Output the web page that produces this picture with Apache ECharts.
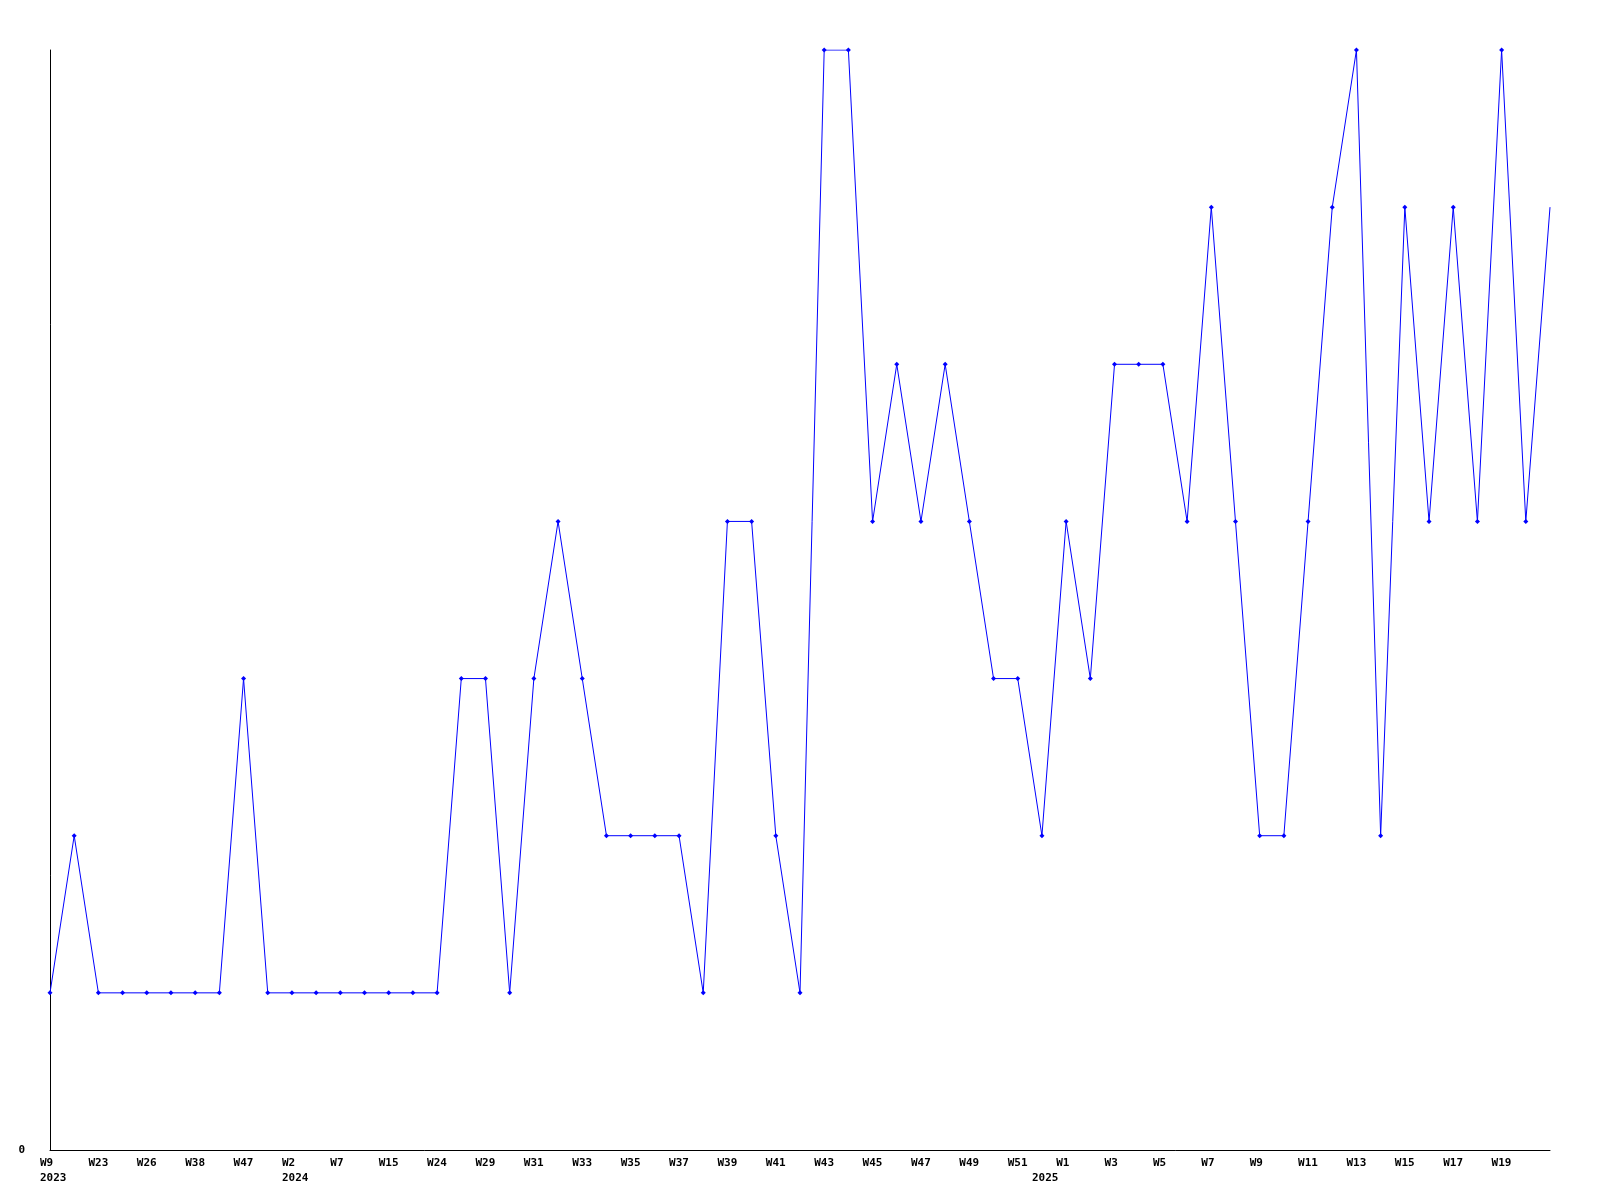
<!DOCTYPE html>
<html>
<head>
<meta charset="utf-8">
<script src="https://cdn.jsdelivr.net/npm/echarts@6/dist/echarts.min.js"></script>
<style>html,body{margin:0;padding:0;background:#fff}#c{width:1600px;height:1200px}</style>
</head>
<body>
<div id="c"></div>
<script>
const weeks = ['W9','W22','W23','W25','W26','W37','W38','W46','W47','W52',
  'W2','W6','W7','W14','W15','W23','W24','W28','W29','W30',
  'W31','W32','W33','W34','W35','W36','W37','W38','W39','W40',
  'W41','W42','W43','W44','W45','W46','W47','W48','W49','W50',
  'W51','W52','W1','W2','W3','W4','W5','W6','W7','W8',
  'W9','W10','W11','W12','W13','W14','W15','W16','W17','W18',
  'W19','W20','W21'];
const shownWeekLabels = ['W9','W23','W26','W38','W47','W2','W7','W15','W24','W29',
  'W31','W33','W35','W37','W39','W41','W43','W45','W47','W49',
  'W51','W1','W3','W5','W7','W9','W11','W13','W15','W17','W19'];
const yearLabels = {0:'2023', 10:'2024', 41:'2025'};
const values = [1,2,1,1,1,1,1,1,3,1,
  1,1,1,1,1,1,1,3,3,1,
  3,4,3,2,2,2,2,1,4,4,
  2,1,7,7,4,5,4,5,4,3,
  3,2,4,3,5,5,5,4,6,4,
  2,2,4,6,7,2,6,4,6,4,
  7,4,6];
const yTickLabels = ['0'];

const cats = weeks.map((w, i) => i + ':' + w);
const seriesData = values.map((v, i) => i === values.length - 1 ? {value: v, symbol: 'none'} : v);
const weekLabelAt = (i) => (i % 2 === 0 && i / 2 < shownWeekLabels.length) ? shownWeekLabels[i / 2] : '';

const chart = echarts.init(document.getElementById('c'), null, {renderer: 'canvas'});
chart.setOption({
  animation: false,
  backgroundColor: '#ffffff',
  grid: {left: 50, right: 50, top: 50, bottom: 50, containLabel: false},
  xAxis: {
    type: 'category',
    data: cats,
    boundaryGap: false,
    axisLine: {show: true, lineStyle: {color: '#000', width: 1}},
    axisTick: {show: false},
    splitLine: {show: false},
    axisLabel: {
      interval: (i) => weekLabelAt(i) !== '' || yearLabels[i] !== undefined,
      margin: 6,
      align: 'left',
      padding: [0, 0, 0, -10],
      color: '#000',
      fontFamily: 'DejaVu Sans Mono',
      fontWeight: 'bold',
      fontSize: 11,
      lineHeight: 15,
      formatter: (val, i) => {
        const w = weekLabelAt(i);
        return yearLabels[i] !== undefined ? w + '\n' + yearLabels[i] : w;
      }
    }
  },
  yAxis: {
    type: 'value',
    min: 0,
    max: 7,
    interval: 7,
    axisLine: {show: true, lineStyle: {color: '#000', width: 1}},
    axisTick: {show: false},
    splitLine: {show: false},
    axisLabel: {
      showMaxLabel: false,
      margin: 25,
      color: '#000',
      fontFamily: 'DejaVu Sans Mono',
      fontWeight: 'bold',
      fontSize: 11,
      formatter: (v) => v === 0 ? yTickLabels[0] : ''
    }
  },
  series: [{
    type: 'line',
    data: seriesData,
    symbol: 'diamond',
    symbolSize: 5,
    showAllSymbol: true,
    lineStyle: {color: '#0000ff', width: 1},
    itemStyle: {color: '#0000ff'},
    emphasis: {disabled: true}
  }]
});
</script>
</body>
</html>
